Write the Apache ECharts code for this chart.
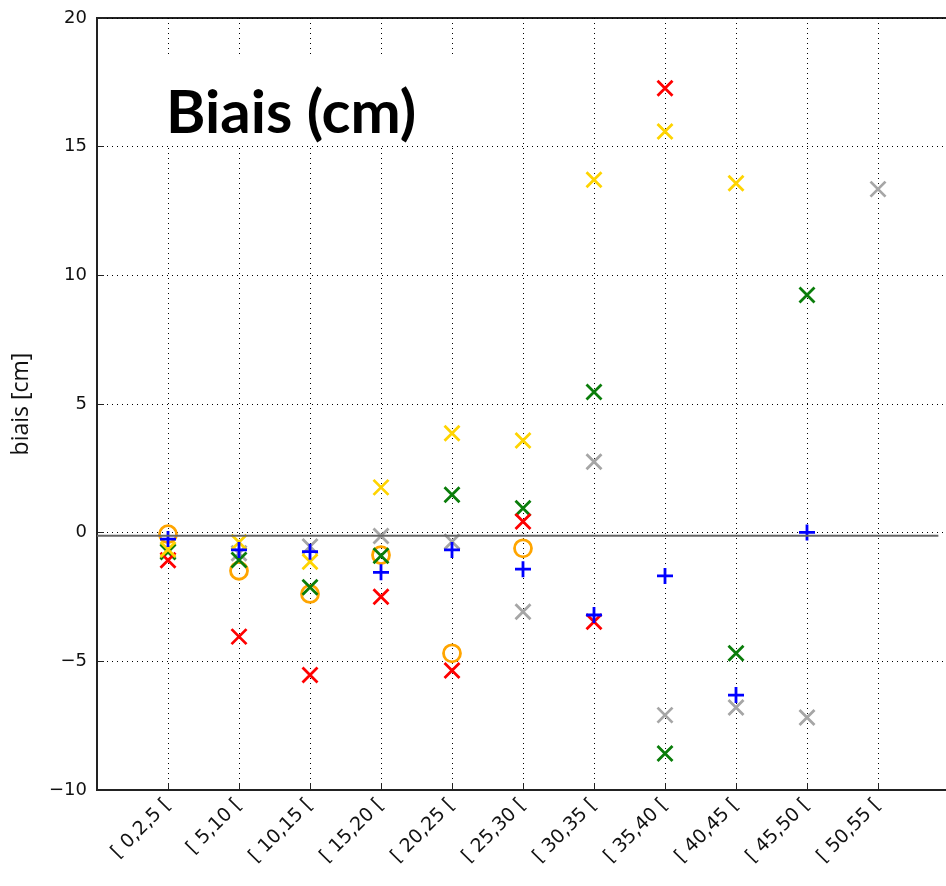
<!DOCTYPE html>
<html>
<head>
<meta charset="utf-8">
<script src="https://cdn.jsdelivr.net/npm/echarts@6/dist/echarts.min.js"></script>
<style>
  html, body { margin: 0; padding: 0; background: #fff; }
  #main { width: 946px; height: 886px; }
</style>
</head>
<body>
<div id="main"></div>
<script>
var classes = ['[ 0,2,5 [', '[ 5,10 [', '[ 10,15 [', '[ 15,20 [', '[ 20,25 [', '[ 25,30 [',
    '[ 30,35 [', '[ 35,40 [', '[ 40,45 [', '[ 45,50 [', '[ 50,55 ['];

// valeurs lues par classe (null = pas de point)
var grisVals   = [-0.7, -0.8, -0.54, -0.13, -0.35, -3.07, 2.76, -7.09, -6.79, -7.18, 13.35];
var orangeVals = [-0.06, -1.48, -2.38, -0.87, -4.69, -0.61, null, null, null, null, null];
var vertVals   = [-0.75, -1.06, -2.12, -0.9, 1.47, 0.95, 5.47, -8.58, -4.69, 9.24, null];
var rougeVals  = [-1.07, -4.04, -5.53, -2.49, -5.36, 0.43, -3.46, 17.27, null, null, null];
var jauneVals  = [-0.65, -0.37, -1.13, 1.76, 3.86, 3.58, 13.71, 15.59, 13.58, null, null];
var bleuVals   = [-0.25, -0.67, -0.74, -1.54, -0.67, -1.42, -3.2, -1.68, -6.31, 0.01, null];

var zeroLineX = [-1, 10.85];
var zeroLineY = [-0.12, -0.12];

var SYM_X = 'path://M0,0L10,10M10,0L0,10';
var SYM_PLUS = 'path://M5,0L5,10M0,5L10,5';

function pts(vals) {
    var out = [];
    vals.forEach(function (v, i) {
        if (v !== null) out.push([i, v]);
    });
    return out;
}

function serie(name, vals, symbol, color, size) {
    return {
        name: name,
        type: 'scatter',
        data: pts(vals),
        symbol: symbol,
        symbolSize: size,
        itemStyle: {
            color: 'rgba(0,0,0,0)',
            borderColor: color,
            borderWidth: 2.8,
            opacity: 1
        },
        emphasis: { disabled: true }
    };
}

var chart = echarts.init(document.getElementById('main'));

var option = {
    animation: false,
    grid: {
        left: 97,
        top: 18,
        width: 852,
        height: 772,
        outerBoundsMode: 'none',
        containLabel: false,
        show: true,
        borderColor: '#222',
        borderWidth: 2,
        backgroundColor: '#fff'
    },
    xAxis: {
        type: 'value',
        min: -1,
        max: 11,
        interval: 1,
        axisLine: { show: true, onZero: false, lineStyle: { color: '#222', width: 2 } },
        axisTick: { show: true, inside: true, length: 7, lineStyle: { color: '#222', width: 1 } },
        axisLabel: {
            rotate: 45,
            margin: 12,
            fontFamily: 'DejaVu Sans',
            fontSize: 19,
            color: '#111',
            formatter: function (v) {
                return classes[v] !== undefined ? classes[v] : '';
            }
        },
        splitLine: { show: true, lineStyle: { color: '#000', type: [1, 4], width: 1 } }
    },
    yAxis: {
        type: 'value',
        min: -10,
        max: 20,
        interval: 5,
        name: 'biais [cm]',
        nameLocation: 'middle',
        nameRotate: 90,
        nameGap: 64,
        nameTextStyle: { fontFamily: 'Open Sans', fontSize: 23, color: '#111' },
        axisLine: { show: true, onZero: false, lineStyle: { color: '#222', width: 2 } },
        axisTick: { show: true, inside: true, length: 7, lineStyle: { color: '#222', width: 1 } },
        axisLabel: {
            margin: 10,
            fontFamily: 'DejaVu Sans',
            fontSize: 18,
            color: '#111',
            formatter: function (v) { return v < 0 ? '\u2212' + Math.abs(v) : String(v); }
        },
        splitLine: { show: true, lineStyle: { color: '#000', type: [1, 4], width: 1 } }
    },
    graphic: [{
        type: 'rect',
        left: 145,
        top: 58,
        shape: { width: 318, height: 87 },
        style: { fill: '#fff' },
        z: 100
    }, {
        type: 'text',
        left: 166,
        top: 84,
        style: {
            text: 'Biais (cm)',
            fontFamily: 'Lato',
            fontWeight: 'bold',
            fontSize: 60,
            fill: '#000'
        },
        z: 101
    }],
    series: [
        {
            name: 'zero',
            type: 'line',
            data: zeroLineX.map(function (x, i) { return [x, zeroLineY[i]]; }),
            showSymbol: false,
            lineStyle: { color: '#666', width: 2 },
            silent: true
        },
        serie('gris', grisVals, SYM_X, '#a6a6a6', 15),
        serie('orange', orangeVals, 'circle', '#ffa500', 17),
        serie('vert', vertVals, SYM_X, '#0a7d0a', 15),
        serie('rouge', rougeVals, SYM_X, '#ff0000', 15),
        serie('jaune', jauneVals, SYM_X, '#ffd400', 15),
        serie('bleu', bleuVals, SYM_PLUS, '#0000ff', 16)
    ]
};

chart.setOption(option);
</script>
</body>
</html>
